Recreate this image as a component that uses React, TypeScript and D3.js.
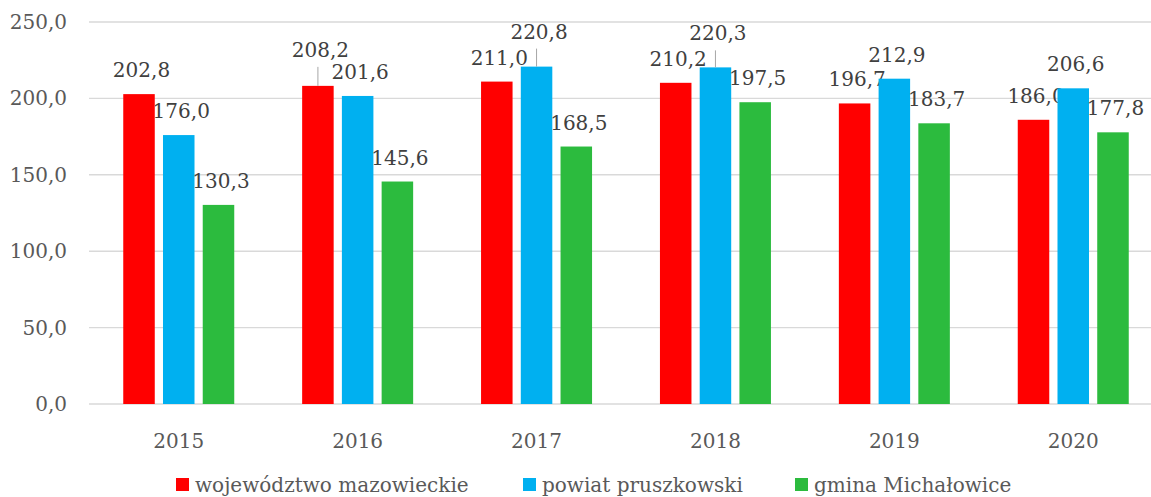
import React from "react";
import * as d3 from "d3";

const years = ["2015", "2016", "2017", "2018", "2019", "2020"];
const seriesNames = ["województwo mazowieckie", "powiat pruszkowski", "gmina Michałowice"];
const mazowieckie = [202.8, 208.2, 211.0, 210.2, 196.7, 186.0];
const pruszkowski = [176.0, 201.6, 220.8, 220.3, 212.9, 206.6];
const michalowice = [130.3, 145.6, 168.5, 197.5, 183.7, 177.8];
const yTicks = [0, 50, 100, 150, 200, 250];
const colors = ["#ff0000", "#00b0f0", "#2cbb3e"];
// labels moved up with leader lines: [seriesIndex, yearIndex, lift px]
const liftedLabels: [number, number, number][] = [
  [0, 1, 12],
  [1, 2, 11],
  [1, 3, 10],
];

const W = 1151;
const H = 497;
const FONT = "'DejaVu Serif', serif";

export default function App() {
  const series = [mazowieckie, pruszkowski, michalowice];
  const y = d3.scaleLinear().domain([0, 250]).range([404, 22]);
  const x = d3.scaleBand<string>().domain(years).range([89.3, 89.3 + 6 * 178.9]);
  const inner = d3.scaleBand<number>().domain([0, 1, 2]).range([-55.5, 55.5]).paddingInner(0.207).paddingOuter(0);
  const fmt = (v: number) => v.toFixed(1).replace(".", ",");
  const legendX = [176, 523, 795];

  return (
    <div style={{ position: "fixed", left: 0, top: 0 }}>
      <svg width={W} height={H} style={{ display: "block", background: "#fff" }} fontFamily={FONT}>
        {yTicks.map((t) => (
          <g key={t}>
            <line x1={89} x2={W} y1={y(t)} y2={y(t)} stroke="#d9d9d9" strokeWidth={1.4} />
            <text x={67} y={y(t)} dy="0.35em" textAnchor="end" fontSize={20} fill="#595959">
              {fmt(t)}
            </text>
          </g>
        ))}
        {years.map((yr) => (
          <text key={yr} x={(x(yr) as number) + x.bandwidth() / 2} y={441} dy="0.35em" textAnchor="middle" fontSize={20} fill="#595959">
            {yr}
          </text>
        ))}
        {series.map((vals, si) =>
          vals.map((v, yi) => {
            const cx = (x(years[yi]) as number) + x.bandwidth() / 2;
            const bx = cx + (inner(si) as number);
            const bw = inner.bandwidth();
            const top = y(v);
            const lift = liftedLabels.find((l) => l[0] === si && l[1] === yi);
            const ly = top - 24 - (lift ? lift[2] : 0);
            return (
              <g key={si + "-" + yi}>
                <rect x={bx} y={top} width={bw} height={y(0) - top} fill={colors[si]} />
                {lift && (
                  <line x1={bx + bw / 2} x2={bx + bw / 2} y1={ly + 17} y2={top} stroke="#a6a6a6" strokeWidth={1} />
                )}
                <text x={bx + bw / 2 + 2.5} y={ly} dy="0.35em" textAnchor="middle" fontSize={20} fill="#404040">
                  {fmt(v)}
                </text>
              </g>
            );
          })
        )}
        {seriesNames.map((n, i) => (
          <g key={n}>
            <rect x={legendX[i]} y={478} width={13} height={13} fill={colors[i]} />
            <text x={legendX[i] + 19} y={484.5} dy="0.35em" fontSize={20} fill="#595959">
              {n}
            </text>
          </g>
        ))}
      </svg>
    </div>
  );
}
